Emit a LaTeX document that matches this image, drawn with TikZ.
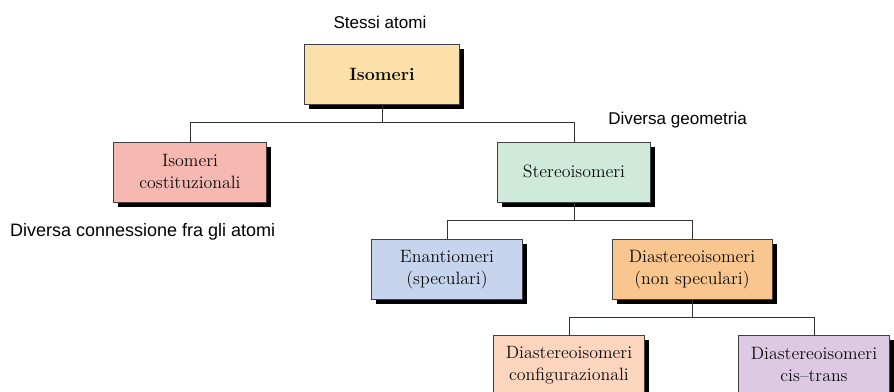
\documentclass[tikz,border=0pt]{standalone}
\usepackage{fontspec}
\newfontfamily\labelfont{Liberation Sans}
\usetikzlibrary{positioning, shadows}
\definecolor{isomfill}{HTML}{FBE0AA}
\definecolor{costfill}{HTML}{F6B9B2}
\definecolor{stereofill}{HTML}{CFE9DB}
\definecolor{enanfill}{HTML}{C6D4EE}
\definecolor{diafill}{HTML}{F8C68E}
\definecolor{conffill}{HTML}{FBD5BE}
\definecolor{cisfill}{HTML}{DDC9E4}
\tikzset{%
	isobox/.style={draw=black!75, rectangle, minimum width=115pt, minimum height=45pt,%
		align=center, inner sep=2pt, font=\fontsize{13.4}{16.5}\selectfont, text=black!95,%
		drop shadow={shadow xshift=3.5pt, shadow yshift=-3.5pt, fill=black, opacity=1}},
	connector/.style={draw=black!80, line width=0.7pt},
	sidetext/.style={inner sep=0pt, font=\labelfont\fontsize{12.8}{15}\selectfont}
}
\begin{document}
\begin{tikzpicture}
	\fill[white] (0,0) rectangle (670.5pt,-294pt);
	\useasboundingbox (0,0) rectangle (670.5pt,-294pt);

	\node[isobox, fill=isomfill, minimum width=116pt] (isom) at (286.5pt,-55.5pt) {\textbf{Isomeri}};
	\node[isobox, fill=costfill, below=28pt of isom, xshift=-144pt] (cost) {Isomeri\\costituzionali};
	\node[isobox, fill=stereofill, below=28pt of isom, xshift=144pt] (stereo) {Stereoisomeri};
	\node[isobox, fill=enanfill, minimum width=113pt, below=28pt of stereo, xshift=-95.25pt] (enan) {Enantiomeri\\(speculari)};
	\node[isobox, fill=diafill, minimum width=120pt, below=28pt of stereo, xshift=88.5pt] (dia) {Diastereoisomeri\\(non speculari)};
	\node[isobox, fill=conffill, minimum width=113pt, below=26pt of dia, xshift=-92.25pt] (conf) {Diastereoisomeri\\configurazionali};
	\node[isobox, fill=cisfill, minimum width=113pt, below=26pt of dia, xshift=91.5pt] (cis) {Diastereoisomeri\\cis--trans};

	\node[sidetext, above=11pt of isom, xshift=-1.5pt] (samat) {Stessi atomi};
	\node[sidetext, above=10pt of stereo.north east, xshift=20pt] (geom) {Diversa geometria};
	\node[sidetext, below=16pt of cost, xshift=-35.5pt, font=\labelfont\fontsize{13.5}{15}\selectfont] (conn) {Diversa connessione fra gli atomi};

	\draw[connector] (isom.south) -- ++(0,-14pt) coordinate (j1) -| (cost.north);
	\draw[connector] (j1) -| (stereo.north);
	\draw[connector] (stereo.south) -- ++(0,-14pt) coordinate (j2) -| (enan.north);
	\draw[connector] (j2) -| (dia.north);
	\draw[connector] (dia.south) -- ++(0,-13pt) coordinate (j3) -| (conf.north);
	\draw[connector] (j3) -| (cis.north);
\end{tikzpicture}
\end{document}
